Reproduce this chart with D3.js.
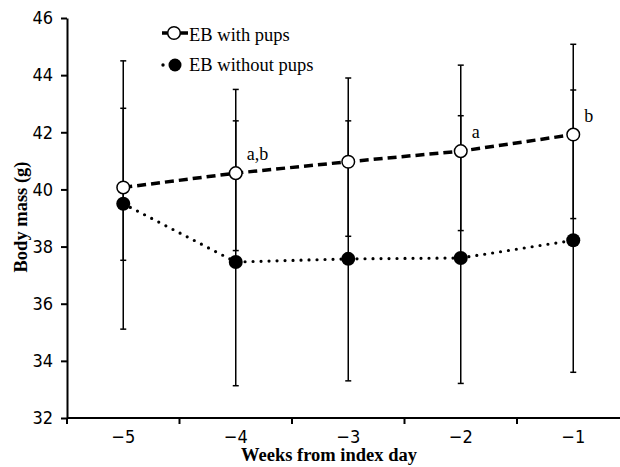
<!DOCTYPE html>
<html lang="en">
<head>
<meta charset="UTF-8">
<title>Body mass</title>
<script src="https://d3js.org/d3.v7.min.js"></script>
<style>
  body { margin: 0; background: #fff; }
  svg { display: block; font-family: "Liberation Serif", "Times New Roman", serif; }
  .axis path, .axis line { stroke: #000; stroke-width: 2; }
  .axis text { font-size: 18px; fill: #000; font-family: "Liberation Sans Narrow", "Arial Narrow", "DejaVu Sans Condensed", sans-serif; }
</style>
</head>
<body>
<svg id="chart" width="620" height="467"></svg>
<script>
// data
var weeks = ["\u22125", "\u22124", "\u22123", "\u22122", "\u22121"];
var withPups = [40.07, 40.57, 40.97, 41.34, 41.92];
var withPupsHi = [44.5, 43.5, 43.9, 44.35, 45.08];
var withPupsLo = [37.52, 37.86, 38.36, 38.56, 38.98];
var withoutPups = [39.5, 37.46, 37.57, 37.6, 38.22];
var withoutPupsHi = [42.84, 42.4, 42.4, 42.58, 43.48];
var withoutPupsLo = [35.11, 33.13, 33.3, 33.21, 33.6];
var yTicks = [32, 34, 36, 38, 40, 42, 44, 46];
var notes = [{ i: 1, text: "a,b" }, { i: 3, text: "a" }, { i: 4, text: "b" }];

var svg = d3.select("#chart");
var plotLeft = 67, plotTop = 18, plotBottom = 418;

var x = d3.scaleBand().domain(weeks).range([plotLeft, plotLeft + 5 * 112.5]).padding(0);
var y = d3.scaleLinear().domain([32, 46]).range([plotBottom, plotTop]);
var cx = function(d, i) { return x(weeks[i]) + x.bandwidth() / 2; };

// y axis
svg.append("g")
   .attr("class", "axis")
   .attr("transform", "translate(" + plotLeft + ",0)")
   .call(d3.axisLeft(y).tickValues(yTicks).tickSize(6).tickSizeOuter(0).tickPadding(8));

// x axis (line runs off the right edge)
var xa = svg.append("g").attr("class", "axis");
xa.append("line").attr("x1", plotLeft).attr("x2", 640).attr("y1", plotBottom).attr("y2", plotBottom);
var edges = weeks.map(function(w) { return x(w); }).concat([x.range()[1]]);
xa.selectAll(".xt").data(edges).enter().append("line")
  .attr("x1", function(d) { return d; }).attr("x2", function(d) { return d; })
  .attr("y1", plotBottom).attr("y2", plotBottom + 6);
xa.selectAll(".xl").data(weeks).enter().append("text")
  .attr("x", cx).attr("y", plotBottom + 25)
  .attr("text-anchor", "middle")
  .text(function(d) { return d; });

// error bars
function errBars(vals, hi, lo) {
  var g = svg.append("g").attr("stroke", "#000").attr("stroke-width", 1.5);
  g.selectAll(".v").data(vals).enter().append("line")
   .attr("x1", cx).attr("x2", cx)
   .attr("y1", function(d, i) { return y(hi[i]); })
   .attr("y2", function(d, i) { return y(lo[i]); });
  [hi, lo].forEach(function(arr) {
    g.selectAll(null).data(arr).enter().append("line")
     .attr("x1", function(d, i) { return cx(d, i) - 3; })
     .attr("x2", function(d, i) { return cx(d, i) + 3; })
     .attr("y1", function(d) { return y(d); })
     .attr("y2", function(d) { return y(d); });
  });
}
errBars(withPups, withPupsHi, withPupsLo);
errBars(withoutPups, withoutPupsHi, withoutPupsLo);

var line = d3.line().x(cx).y(function(d) { return y(d); });

svg.append("path").datum(withoutPups)
   .attr("d", line).attr("fill", "none").attr("stroke", "#000")
   .attr("stroke-width", 3.2).attr("stroke-linecap", "round")
   .attr("stroke-dasharray", "0,8");
svg.append("path").datum(withPups)
   .attr("d", line).attr("fill", "none").attr("stroke", "#000")
   .attr("stroke-width", 3.5).attr("stroke-dasharray", "9,5");

svg.selectAll(".fill").data(withoutPups).enter().append("circle")
   .attr("cx", cx).attr("cy", function(d) { return y(d); })
   .attr("r", 7).attr("fill", "#000");
svg.selectAll(".open").data(withPups).enter().append("circle")
   .attr("cx", cx).attr("cy", function(d) { return y(d); })
   .attr("r", 6.3).attr("fill", "#fff").attr("stroke", "#000").attr("stroke-width", 1.5);

// significance letters
svg.selectAll(".note").data(notes).enter().append("text")
   .attr("x", function(d) { return cx(null, d.i) + 11; })
   .attr("y", function(d) { return y(withPups[d.i]) - 13; })
   .attr("font-size", "18px")
   .text(function(d) { return d.text; });

// legend
var lg = svg.append("g");
lg.append("line").attr("x1", 162).attr("x2", 188).attr("y1", 33).attr("y2", 33)
  .attr("stroke", "#000").attr("stroke-width", 3.5).attr("stroke-dasharray", "8,10");
lg.append("circle").attr("cx", 174).attr("cy", 33).attr("r", 6.3)
  .attr("fill", "#fff").attr("stroke", "#000").attr("stroke-width", 1.5);
lg.append("text").attr("x", 189).attr("y", 41).attr("font-size", "18.5px").text("EB with pups");
lg.append("circle").attr("cx", 163).attr("cy", 65).attr("r", 1.7).attr("fill", "#000");
lg.append("circle").attr("cx", 175).attr("cy", 65).attr("r", 6.5).attr("fill", "#000");
lg.append("text").attr("x", 189).attr("y", 71).attr("font-size", "18.5px").text("EB without pups");

// axis titles
svg.append("text")
   .attr("transform", "translate(27,217) rotate(-90)")
   .attr("text-anchor", "middle").attr("font-weight", "bold").attr("font-size", "18.5px")
   .text("Body mass (g)");
svg.append("text")
   .attr("x", 329).attr("y", 461)
   .attr("text-anchor", "middle").attr("font-weight", "bold").attr("font-size", "18.5px")
   .text("Weeks from index day");
</script>
</body>
</html>
